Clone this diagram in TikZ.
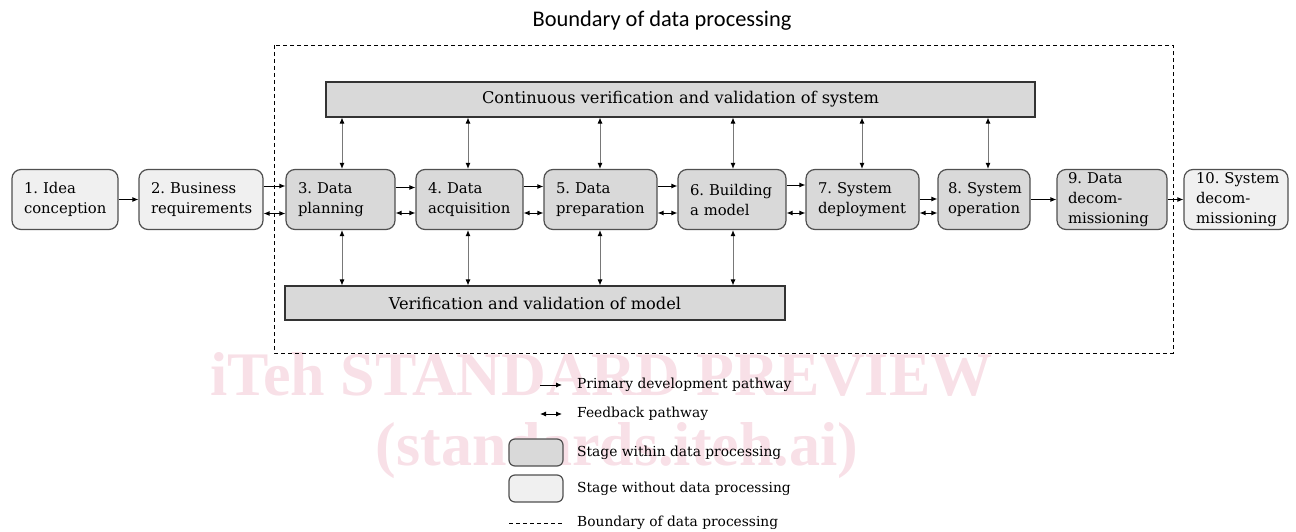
\documentclass[tikz,border=0pt]{standalone}
\usepackage{fontspec}
\setmainfont{DejaVu Serif}
\newfontfamily\titlefont{Carlito}
\newfontfamily\markfont{Liberation Serif}
\usetikzlibrary{arrows.meta}
\definecolor{ingray}{RGB}{217,217,217}
\definecolor{outgray}{RGB}{240,240,240}
\definecolor{edgegray}{RGB}{80,80,80}
\definecolor{wmark}{RGB}{248,224,231}
\definecolor{linkgray}{RGB}{120,120,120}
\tikzset{
  >={Latex[length=6pt,width=5pt]},
  stage/.style={draw=edgegray, line width=1.2pt, rounded corners=9pt,
    minimum height=60pt, inner xsep=12pt, inner ysep=0pt, align=left,
    font=\fontsize{14.8}{20}\selectfont},
  inside/.style={stage, fill=ingray},
  outside/.style={stage, fill=outgray},
  bar/.style={draw=black!80, line width=1.1pt, fill=ingray, inner sep=0pt,
    font=\fontsize{16.2}{19}\selectfont},
  flow/.style={->, line width=0.9pt, black},
  feedback/.style={<->, line width=0.9pt, black},
  vlink/.style={{Latex[length=6pt,width=5pt,color=black]}-{Latex[length=6pt,width=5pt,color=black]}, line width=0.9pt, linkgray},
  boundary/.style={draw=black, line width=0.9pt, dash pattern=on 4pt off 3pt},
  legendtext/.style={anchor=west, inner sep=0pt, font=\fontsize{13.8}{16}\selectfont},
  watermark/.style={text=wmark, inner sep=0pt, anchor=base, font=\markfont\bfseries\fontsize{62}{70}\selectfont}
}
\begin{document}
\frenchspacing
\hyphenpenalty=10000
\exhyphenpenalty=10000
\begin{tikzpicture}[x=1pt,y=-1pt]
\useasboundingbox (0,0) rectangle (1296,532);

% watermark text
\node[watermark] (wm1) at (601.5,395) {iTeh STANDARD PREVIEW};
\node[watermark] (wm2) at (617,465) {(standards.iteh.ai)};

% title and boundary
\node[font=\titlefont\fontsize{22.4}{26}\selectfont, inner sep=0pt] (title) at (662,21) {Boundary of data processing};
\draw[boundary] (274,45) rectangle (1173,353);

% verification bars
\node[bar, minimum width=709pt, minimum height=35pt] (sysvv) at (680.5,99.5) {Continuous verification and validation of system};
\node[bar, minimum width=500pt, minimum height=34pt] (modvv) at (535,303) {Verification and validation of model};

% life cycle stages
\node[outside, text width=82pt]  (s1)  at (65,199.5)    {1.~Idea\\conception};
\node[outside, text width=100pt] (s2)  at (201,199.5)   {2.~Business\\requirements};
\node[inside, text width=85pt]   (s3)  at (340.5,199.5) {3.~Data\\planning};
\node[inside, text width=83pt]   (s4)  at (469.5,199.5) {4.~Data\\acquisition};
\node[inside, text width=89pt]   (s5)  at (600.5,199.5) {5.~Data\\preparation};
\node[inside, text width=84pt]   (s6)  at (732,199.5)   {6.~Building\\a~model};
\node[inside, text width=89pt]   (s7)  at (862.5,199.5) {7.~System\\deployment};
\node[inside, text width=72pt, inner xsep=10pt] (s8) at (984,199.5) {8.~System\\operation};
\node[inside, text width=88pt, inner xsep=11pt] (s9) at (1112,199.5) {9.~Data\\decom-\\missioning};
\node[outside, text width=80pt]  (s10) at (1236,199.5)  {10.~System\\decom-\\missioning};

% primary development pathway
\draw[flow] (s1.east) -- (s2.west);
\draw[flow] ([yshift=13.5pt]s2.east) -- ([yshift=13.5pt]s3.west);
\draw[flow] ([yshift=12pt]s3.east) -- ([yshift=12pt]s4.west);
\draw[flow] ([yshift=13pt]s4.east) -- ([yshift=13pt]s5.west);
\draw[flow] ([yshift=13.5pt]s5.east) -- ([yshift=13.5pt]s6.west);
\draw[flow] ([yshift=14.5pt]s6.east) -- ([yshift=14.5pt]s7.west);
\draw[flow] ([yshift=0.5pt]s7.east) -- ([yshift=0.5pt]s8.west);
\draw[flow] (s8.east) -- (s9.west);
\draw[flow] (s9.east) -- (s10.west);

% feedback pathway
\draw[feedback] ([yshift=-14pt]s2.east) -- ([yshift=-14pt]s3.west);
\draw[feedback] ([yshift=-13.5pt]s3.east) -- ([yshift=-13.5pt]s4.west);
\draw[feedback] ([yshift=-13.5pt]s4.east) -- ([yshift=-13.5pt]s5.west);
\draw[feedback] ([yshift=-13.5pt]s5.east) -- ([yshift=-13.5pt]s6.west);
\draw[feedback] ([yshift=-13.5pt]s6.east) -- ([yshift=-13.5pt]s7.west);
\draw[feedback] ([yshift=-13.5pt]s7.east) -- ([yshift=-13.5pt]s8.west);

% links to the verification bars
\foreach \s/\x in {s3/342,s4/468,s5/600,s6/733,s7/862,s8/988}
  \draw[vlink] (sysvv.south -| \x,0) -- (\s.north -| \x,0);
\foreach \s/\x in {s3/342,s4/468,s5/600,s6/733}
  \draw[vlink] (\s.south -| \x,0) -- (modvv.north -| \x,0);

% legend
\coordinate (lpa) at (540,385);
\coordinate (lpb) at (562,385);
\coordinate (lfa) at (540,414);
\coordinate (lfb) at (562,414);
\coordinate (lba) at (509,523);
\coordinate (lbb) at (563,523);
\draw[flow] (lpa) -- (lpb);
\draw[feedback] (lfa) -- (lfb);
\node[draw=edgegray, line width=1.2pt, rounded corners=6pt, fill=ingray, minimum width=54pt, minimum height=27pt, inner sep=0pt] (lin) at (536,452.5) {};
\node[draw=edgegray, line width=1.2pt, rounded corners=6pt, fill=outgray, minimum width=54pt, minimum height=27pt, inner sep=0pt] (lout) at (536,488.5) {};
\draw[boundary] (lba) -- (lbb);
\node[legendtext] (tp) at (577,385) {Primary development pathway};
\node[legendtext] (tf) at (577,414) {Feedback pathway};
\node[legendtext] (ti) at (577,453) {Stage within data processing};
\node[legendtext] (to) at (577,489) {Stage without data processing};
\node[legendtext] (tb) at (577,523) {Boundary of data processing};
\end{tikzpicture}
\end{document}
